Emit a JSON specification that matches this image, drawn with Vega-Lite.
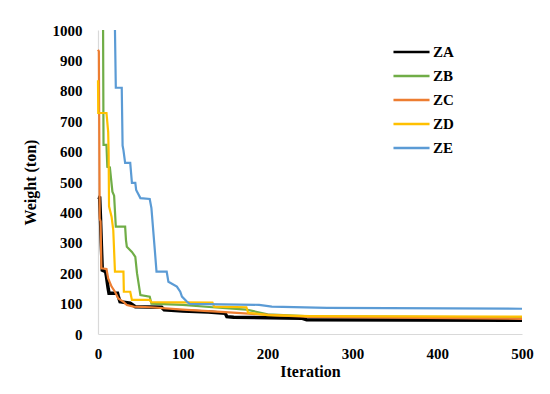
{
  "$schema": "https://vega.github.io/schema/vega-lite/v6.json",
  "autosize": {"type": "none"},
  "width": 424,
  "height": 304,
  "padding": {"left": 98, "top": 30, "right": 28, "bottom": 60},
  "background": "white",
  "config": {
    "view": {"stroke": null},
    "font": "Liberation Serif",
    "axis": {"grid": false, "ticks": false, "labelFlush": false, "domainColor": "#d9d9d9", "domainWidth": 1.2, "labelFont": "Liberation Serif", "labelFontWeight": "bold", "labelFontSize": 15, "labelColor": "#000", "titleFont": "Liberation Serif", "titleFontWeight": "bold", "titleFontSize": 16, "titleColor": "#000"}
  },
  "data": {"values": [
    {"it": 0, "w": 450, "s": "ZA"}, {"it": 2, "w": 448, "s": "ZA"}, {"it": 3, "w": 375, "s": "ZA"}, {"it": 4, "w": 290, "s": "ZA"}, {"it": 5, "w": 210, "s": "ZA"}, {"it": 9, "w": 205, "s": "ZA"}, {"it": 10, "w": 189, "s": "ZA"}, {"it": 12, "w": 150, "s": "ZA"}, {"it": 13, "w": 134, "s": "ZA"}, {"it": 23, "w": 134, "s": "ZA"}, {"it": 24, "w": 123, "s": "ZA"}, {"it": 26, "w": 106, "s": "ZA"}, {"it": 38, "w": 101, "s": "ZA"}, {"it": 44, "w": 90, "s": "ZA"}, {"it": 75, "w": 88, "s": "ZA"}, {"it": 78, "w": 80, "s": "ZA"}, {"it": 100, "w": 76, "s": "ZA"}, {"it": 130, "w": 72, "s": "ZA"}, {"it": 150, "w": 68, "s": "ZA"}, {"it": 152, "w": 57, "s": "ZA"}, {"it": 160, "w": 55, "s": "ZA"}, {"it": 240, "w": 52, "s": "ZA"}, {"it": 246, "w": 47, "s": "ZA"}, {"it": 500, "w": 45, "s": "ZA"},
    {"it": 6, "w": 1000, "s": "ZB"}, {"it": 6.5, "w": 622, "s": "ZB"}, {"it": 10, "w": 622, "s": "ZB"}, {"it": 11, "w": 550, "s": "ZB"}, {"it": 14, "w": 548, "s": "ZB"}, {"it": 17, "w": 468, "s": "ZB"}, {"it": 19, "w": 455, "s": "ZB"}, {"it": 21, "w": 353, "s": "ZB"}, {"it": 32, "w": 353, "s": "ZB"}, {"it": 33, "w": 309, "s": "ZB"}, {"it": 34, "w": 287, "s": "ZB"}, {"it": 40, "w": 270, "s": "ZB"}, {"it": 44, "w": 254, "s": "ZB"}, {"it": 46, "w": 200, "s": "ZB"}, {"it": 50, "w": 128, "s": "ZB"}, {"it": 61, "w": 123, "s": "ZB"}, {"it": 63, "w": 100, "s": "ZB"}, {"it": 100, "w": 96, "s": "ZB"}, {"it": 135, "w": 88, "s": "ZB"}, {"it": 175, "w": 80, "s": "ZB"}, {"it": 200, "w": 65, "s": "ZB"}, {"it": 250, "w": 58, "s": "ZB"}, {"it": 500, "w": 55, "s": "ZB"},
    {"it": 0, "w": 935, "s": "ZC"}, {"it": 1, "w": 930, "s": "ZC"}, {"it": 2, "w": 380, "s": "ZC"}, {"it": 3, "w": 370, "s": "ZC"}, {"it": 4, "w": 216, "s": "ZC"}, {"it": 10, "w": 214, "s": "ZC"}, {"it": 12, "w": 183, "s": "ZC"}, {"it": 16, "w": 156, "s": "ZC"}, {"it": 20, "w": 139, "s": "ZC"}, {"it": 24, "w": 117, "s": "ZC"}, {"it": 30, "w": 106, "s": "ZC"}, {"it": 34, "w": 95, "s": "ZC"}, {"it": 42, "w": 90, "s": "ZC"}, {"it": 62, "w": 88, "s": "ZC"}, {"it": 100, "w": 80, "s": "ZC"}, {"it": 150, "w": 72, "s": "ZC"}, {"it": 200, "w": 63, "s": "ZC"}, {"it": 250, "w": 56, "s": "ZC"}, {"it": 500, "w": 50, "s": "ZC"},
    {"it": 0, "w": 835, "s": "ZD"}, {"it": 0.3, "w": 727, "s": "ZD"}, {"it": 10, "w": 727, "s": "ZD"}, {"it": 12, "w": 665, "s": "ZD"}, {"it": 12.5, "w": 605, "s": "ZD"}, {"it": 13, "w": 420, "s": "ZD"}, {"it": 16, "w": 386, "s": "ZD"}, {"it": 18, "w": 342, "s": "ZD"}, {"it": 20, "w": 205, "s": "ZD"}, {"it": 30, "w": 205, "s": "ZD"}, {"it": 30.5, "w": 139, "s": "ZD"}, {"it": 38, "w": 139, "s": "ZD"}, {"it": 40, "w": 112, "s": "ZD"}, {"it": 61, "w": 112, "s": "ZD"}, {"it": 63, "w": 105, "s": "ZD"}, {"it": 135, "w": 103, "s": "ZD"}, {"it": 137, "w": 90, "s": "ZD"}, {"it": 175, "w": 88, "s": "ZD"}, {"it": 177, "w": 70, "s": "ZD"}, {"it": 200, "w": 62, "s": "ZD"}, {"it": 250, "w": 59, "s": "ZD"}, {"it": 500, "w": 57, "s": "ZD"},
    {"it": 20, "w": 1000, "s": "ZE"}, {"it": 21, "w": 810, "s": "ZE"}, {"it": 28, "w": 810, "s": "ZE"}, {"it": 29, "w": 620, "s": "ZE"}, {"it": 30, "w": 605, "s": "ZE"}, {"it": 32, "w": 563, "s": "ZE"}, {"it": 38, "w": 563, "s": "ZE"}, {"it": 40, "w": 497, "s": "ZE"}, {"it": 44, "w": 497, "s": "ZE"}, {"it": 45, "w": 474, "s": "ZE"}, {"it": 50, "w": 447, "s": "ZE"}, {"it": 61, "w": 444, "s": "ZE"}, {"it": 63, "w": 414, "s": "ZE"}, {"it": 67, "w": 276, "s": "ZE"}, {"it": 69, "w": 205, "s": "ZE"}, {"it": 81, "w": 205, "s": "ZE"}, {"it": 83, "w": 172, "s": "ZE"}, {"it": 93, "w": 156, "s": "ZE"}, {"it": 97, "w": 139, "s": "ZE"}, {"it": 99, "w": 123, "s": "ZE"}, {"it": 105, "w": 106, "s": "ZE"}, {"it": 108, "w": 99, "s": "ZE"}, {"it": 190, "w": 96, "s": "ZE"}, {"it": 205, "w": 90, "s": "ZE"}, {"it": 270, "w": 86, "s": "ZE"}, {"it": 500, "w": 83, "s": "ZE"}
  ]},
  "mark": {"type": "line", "strokeJoin": "miter"},
  "encoding": {
    "x": {"field": "it", "type": "quantitative", "title": "Iteration", "scale": {"domain": [0, 500], "nice": false}, "axis": {"values": [0, 100, 200, 300, 400, 500], "labelPadding": 12, "titlePadding": 2}},
    "y": {"field": "w", "type": "quantitative", "title": "Weight (ton)", "scale": {"domain": [0, 1000], "nice": false}, "axis": {"values": [0, 100, 200, 300, 400, 500, 600, 700, 800, 900, 1000], "format": "d", "labelPadding": 16, "titlePadding": 14}},
    "color": {"field": "s", "type": "nominal", "title": null,
      "scale": {"domain": ["ZA", "ZB", "ZC", "ZD", "ZE"], "range": ["#000000", "#70AD47", "#ED7D31", "#FFC000", "#5B9BD5"]},
      "legend": {"orient": "none", "legendX": 294, "legendY": 10, "symbolType": "stroke", "symbolSize": 1300, "symbolStrokeWidth": 2.5, "clipHeight": 24, "rowPadding": 0, "labelFont": "Liberation Serif", "labelFontWeight": "bold", "labelFontSize": 15, "labelColor": "#000", "labelOffset": 2}},
    "strokeWidth": {"condition": {"test": "datum.s === 'ZA'", "value": 3.5}, "value": 2.2},
    "order": {"field": "it", "type": "quantitative"}
  }
}
